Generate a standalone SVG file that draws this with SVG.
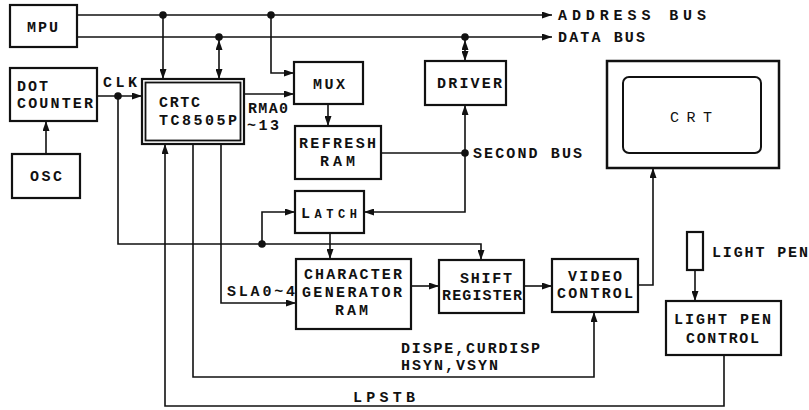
<svg xmlns="http://www.w3.org/2000/svg" width="809" height="410" viewBox="0 0 809 410">
<defs>
<marker id="ah" viewBox="0 0 10 7" refX="10" refY="3.5" markerWidth="10" markerHeight="7" markerUnits="userSpaceOnUse" orient="auto-start-reverse">
<path d="M0,0 L10,3.5 L0,7 z" fill="#111"/>
</marker>
</defs>
<style>
.box{fill:#fff;stroke:#111;stroke-width:2.2}
.ln{fill:none;stroke:#111;stroke-width:1.6}
.arr{marker-end:url(#ah)}
.bi{marker-start:url(#ah);marker-end:url(#ah)}
.dot{fill:#111}
text{font-family:"Liberation Mono","DejaVu Sans Mono",monospace;font-size:15px;font-weight:bold;fill:#111}
</style>
<rect width="809" height="410" fill="#fff"/>

<g id="connectors">
  <path class="ln arr" d="M77,15 H552"/>
  <path class="ln arr" d="M77,37 H552"/>
  <path class="ln arr" d="M163,15 V79"/>
  <path class="ln bi" d="M219,40 V79"/>
  <path class="ln arr" d="M271,15 V73 H294"/>
  <path class="ln arr" d="M97,96 H142"/>
  <path class="ln arr" d="M118,96 V244 H481 V260"/>
  <path class="ln arr" d="M262,244 V212 H295"/>
  <path class="ln arr" d="M46,154 V121"/>
  <path class="ln arr" d="M244,94 H294"/>
  <path class="ln arr" d="M328,104 V126"/>
  <path class="ln" d="M381,153 H465"/>
  <path class="ln bi" d="M465,105 V212 H364"/>
  <path class="ln bi" d="M465,40 V61"/>
  <path class="ln arr" d="M330,233 V259"/>
  <path class="ln arr" d="M221,144 V303 H296"/>
  <path class="ln arr" d="M193,144 V377 H594 V312"/>
  <path class="ln arr" d="M724,355 V406 H165 V144"/>
  <path class="ln arr" d="M411,286 H439"/>
  <path class="ln arr" d="M524,286 H552"/>
  <path class="ln arr" d="M638,285 H653 V168"/>
  <path class="ln arr" d="M695,270 V301"/>
  <circle class="dot" cx="163" cy="15" r="3.8"/>
  <circle class="dot" cx="271" cy="15" r="3.8"/>
  <circle class="dot" cx="219" cy="37" r="3.8"/>
  <circle class="dot" cx="465" cy="37" r="3.8"/>
  <circle class="dot" cx="118" cy="96" r="3.8"/>
  <circle class="dot" cx="262" cy="244" r="3.8"/>
  <circle class="dot" cx="465" cy="153" r="3.8"/>
</g>

<g id="labels">
  <text x="558" y="20" textLength="148">ADDRESS BUS</text>
  <text x="558" y="42" textLength="87">DATA BUS</text>
  <text x="103" y="87" textLength="34">CLK</text>
  <text x="248" y="113" textLength="40">RMA0</text>
  <text x="247" y="130" textLength="32">~13</text>
  <text x="473" y="158" textLength="109">SECOND BUS</text>
  <text x="227" y="296" textLength="68">SLA0~4</text>
  <text x="401" y="353" textLength="139">DISPE,CURDISP</text>
  <text x="401" y="370" textLength="97">HSYN,VSYN</text>
  <text x="353" y="402" textLength="62">LPSTB</text>
  <text x="712" y="257" textLength="96">LIGHT PEN</text>
</g>

<g id="mpu">
  <rect class="box" x="10" y="5" width="67" height="42"/>
  <text x="27" y="32" textLength="31">MPU</text>
</g>
<g id="dot-counter">
  <rect class="box" x="10" y="68" width="87" height="53"/>
  <text x="17" y="91" textLength="31">DOT</text>
  <text x="17" y="108" textLength="76">COUNTER</text>
</g>
<g id="osc">
  <rect class="box" x="12" y="154" width="68" height="44"/>
  <text x="30" y="181" textLength="32">OSC</text>
</g>
<g id="crtc">
  <rect class="box" x="142" y="79" width="102" height="65"/>
  <rect class="box" x="145.5" y="82.5" width="95" height="58" style="stroke-width:1.8"/>
  <text x="159" y="107" textLength="41">CRTC</text>
  <text x="159" y="125" textLength="78">TC8505P</text>
</g>
<g id="mux">
  <rect class="box" x="294" y="62" width="69" height="42"/>
  <text x="313" y="89" textLength="32">MUX</text>
</g>
<g id="refresh-ram">
  <rect class="box" x="295" y="126" width="86" height="53"/>
  <text x="299" y="148" textLength="77">REFRESH</text>
  <text x="320" y="166" textLength="35">RAM</text>
</g>
<g id="driver">
  <rect class="box" x="425" y="61" width="81" height="44"/>
  <text x="437" y="88" textLength="65">DRIVER</text>
</g>
<g id="latch">
  <rect class="box" x="295" y="191" width="69" height="42"/>
  <text x="301" y="218" textLength="56">L<tspan style="font-size:12px">ATCH</tspan></text>
</g>
<g id="char-gen-ram">
  <rect class="box" x="296" y="259" width="115" height="70"/>
  <text x="304" y="279" textLength="98">CHARACTER</text>
  <text x="302" y="297" textLength="100">GENERATOR</text>
  <text x="335" y="315" textLength="33">RAM</text>
</g>
<g id="shift-register">
  <rect class="box" x="439" y="260" width="85" height="53"/>
  <text x="460" y="283" textLength="52">SHIFT</text>
  <text x="442" y="300" textLength="80">REGISTER</text>
</g>
<g id="video-control">
  <rect class="box" x="552" y="259" width="86" height="53"/>
  <text x="568" y="281" textLength="54">VIDEO</text>
  <text x="557" y="298" textLength="76">CONTROL</text>
</g>
<g id="crt">
  <rect class="box" x="607" y="61" width="172" height="107" style="stroke-width:2.5"/>
  <rect class="box" x="623" y="77" width="138" height="76" rx="6" style="stroke-width:2"/>
  <text x="670" y="122" textLength="42" style="font-weight:normal">C R T</text>
</g>
<g id="light-pen">
  <rect class="box" x="687" y="232" width="16" height="38"/>
</g>
<g id="light-pen-control">
  <rect class="box" x="666" y="301" width="115" height="54"/>
  <text x="674" y="324" textLength="97">LIGHT PEN</text>
  <text x="686" y="343" textLength="73">CONTROL</text>
</g>
</svg>
